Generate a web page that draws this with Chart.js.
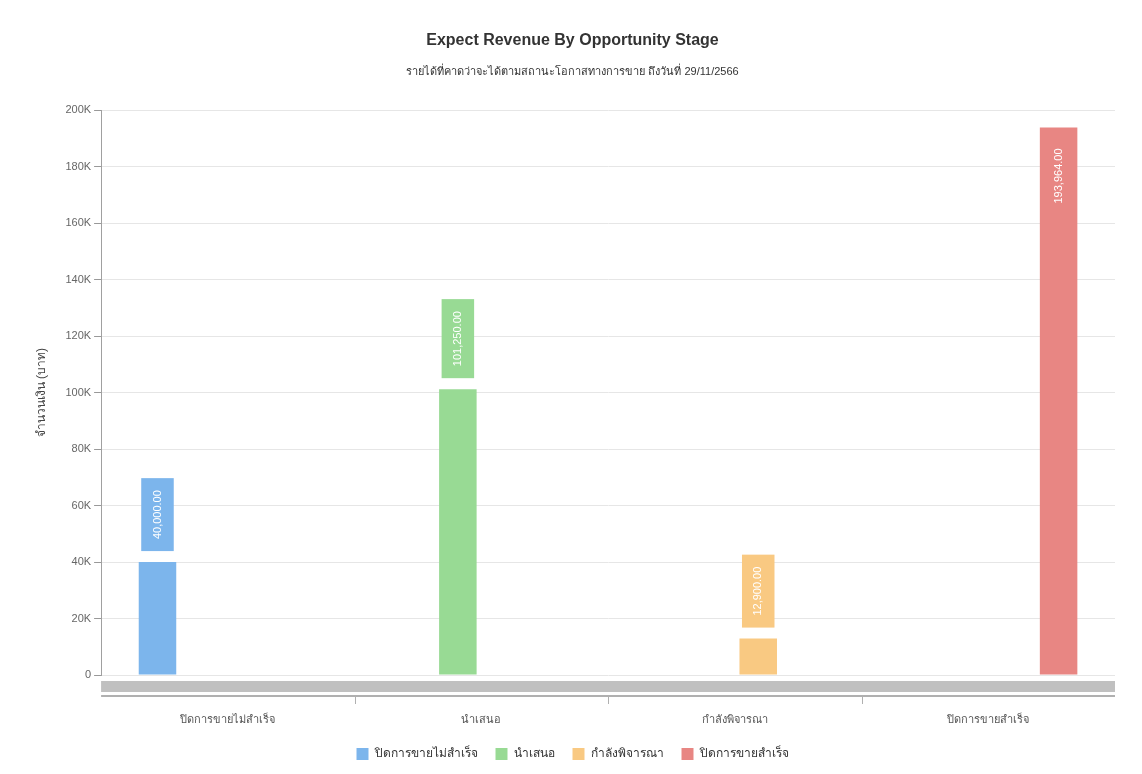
<!DOCTYPE html>
<html>
<head>
<meta charset="utf-8">
<script src="https://cdn.jsdelivr.net/npm/chart.js@4.4.0/dist/chart.umd.min.js"></script>
<style>
    html, body { margin: 0; padding: 0; background: #fff; }
    #wrap { width: 1142px; height: 774px; }
</style>
</head>
<body>
<div id="wrap"><canvas id="stage_chart"></canvas></div>
<script>
let categories = ["ปิดการขายไม่สำเร็จ", "นำเสนอ", "กำลังพิจารณา", "ปิดการขายสำเร็จ"];
let seriesNames = ["ปิดการขายไม่สำเร็จ", "นำเสนอ", "กำลังพิจารณา", "ปิดการขายสำเร็จ"];
let lostValues = [40000, null, null, null];
let proposeValues = [null, 101250, null, null];
let considerValues = [null, null, 12900, null];
let wonValues = [null, null, null, 193964];
let seriesColors = ['#7cb5ec', '#98da94', '#f9c982', '#e88683'];

const font = "'Liberation Sans', Arial, 'Noto Sans', sans-serif";

// value labels in a coloured box above each bar, text turned 90 degrees
// (inside the bar top when there is no room above)
const boxLabels = {
    id: 'boxLabels',
    afterDatasetsDraw(chart) {
        const ctx = chart.ctx;
        const area = chart.chartArea;
        ctx.save();
        ctx.font = '11px ' + font;
        chart.data.datasets.forEach((ds, di) => {
            const meta = chart.getDatasetMeta(di);
            meta.data.forEach((bar, i) => {
                const v = ds.data[i];
                if (v === null || v === undefined) return;
                const text = v.toLocaleString('en-US', {minimumFractionDigits: 2, maximumFractionDigits: 2});
                const tw = ctx.measureText(text).width;
                const w = bar.width - 5;
                const h = tw + 24;
                let bottom = bar.y - 11;
                let cy;
                if (bottom - h < area.top) {
                    cy = bar.y + 21 + tw / 2;
                } else {
                    ctx.fillStyle = ds.backgroundColor;
                    ctx.fillRect(bar.x - w / 2, bottom - h, w, h);
                    cy = bottom - h / 2;
                }
                ctx.translate(bar.x, cy);
                ctx.rotate(-Math.PI / 2);
                ctx.fillStyle = '#ffffff';
                ctx.textAlign = 'center';
                ctx.textBaseline = 'middle';
                ctx.fillText(text, 0, 0);
                ctx.setTransform(1, 0, 0, 1, 0, 0);
            });
        });
        ctx.restore();
    }
};

// grey band under the plot, then the x axis line with ticks between categories
const floorBand = {
    id: 'floorBand',
    afterDraw(chart) {
        const ctx = chart.ctx;
        const area = chart.chartArea;
        ctx.save();
        ctx.fillStyle = '#c0c0c0';
        ctx.fillRect(area.left, area.bottom + 6, area.right - area.left, 11);
        ctx.strokeStyle = '#b0b0b0';
        ctx.lineWidth = 2;
        ctx.beginPath();
        ctx.moveTo(area.left, area.bottom + 21);
        ctx.lineTo(area.right, area.bottom + 21);
        ctx.stroke();
        ctx.lineWidth = 1;
        const step = (area.right - area.left) / categories.length;
        for (let i = 1; i < categories.length; i++) {
            const px = Math.round(area.left + step * i) + 0.5;
            ctx.beginPath();
            ctx.moveTo(px, area.bottom + 21);
            ctx.lineTo(px, area.bottom + 29);
            ctx.stroke();
        }
        ctx.restore();
    }
};

let stage_chart = document.getElementById('stage_chart').getContext('2d');
new Chart(stage_chart, {
    type: 'bar',
    data: {
        labels: categories,
        datasets: [
            { label: seriesNames[0], data: lostValues, backgroundColor: seriesColors[0] },
            { label: seriesNames[1], data: proposeValues, backgroundColor: seriesColors[1] },
            { label: seriesNames[2], data: considerValues, backgroundColor: seriesColors[2] },
            { label: seriesNames[3], data: wonValues, backgroundColor: seriesColors[3] }
        ]
    },
    options: {
        responsive: true,
        maintainAspectRatio: false,
        animation: false,
        categoryPercentage: 0.74,
        barPercentage: 0.8,
        layout: {
            padding: { left: 30, right: 27, top: 27, bottom: 4 }
        },
        plugins: {
            title: {
                display: true,
                text: 'Expect Revenue By Opportunity Stage',
                color: '#333333',
                font: { family: font, size: 16, weight: 'bold' },
                padding: { top: 4, bottom: 15 }
            },
            subtitle: {
                display: true,
                text: 'รายได้ที่คาดว่าจะได้ตามสถานะโอกาสทางการขาย ถึงวันที่ 29/11/2566',
                color: '#333333',
                font: { family: font, size: 11 },
                padding: { bottom: 32 }
            },
            legend: {
                position: 'bottom',
                labels: {
                    boxWidth: 12,
                    boxHeight: 12,
                    padding: 18,
                    color: '#333333',
                    font: { family: font, size: 12 }
                }
            },
            tooltip: { enabled: false }
        },
        scales: {
            x: {
                grid: { display: false },
                border: { display: false },
                afterFit: scale => { scale.height = 55; },
                ticks: {
                    padding: 30,
                    color: '#555555',
                    font: { family: font, size: 11 }
                }
            },
            y: {
                min: 0,
                max: 200000,
                ticks: {
                    stepSize: 20000,
                    color: '#666666',
                    font: { family: font, size: 11 },
                    callback: v => v === 0 ? '0' : (v / 1000) + 'K'
                },
                grid: { color: '#e6e6e6', tickLength: 7, tickColor: '#999999' },
                border: { color: '#a0a0a0' },
                title: {
                    display: true,
                    text: 'จำนวนเงิน (บาท)',
                    color: '#444444',
                    font: { family: font, size: 12 },
                    padding: { bottom: 14 }
                }
            }
        }
    },
    plugins: [boxLabels, floorBand]
});
</script>
</body>
</html>
